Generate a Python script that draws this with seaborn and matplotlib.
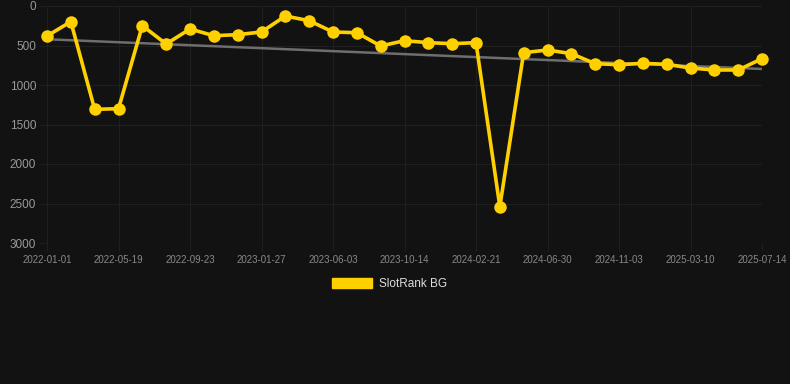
import numpy as np
import pandas as pd
import matplotlib
matplotlib.use("Agg")
import matplotlib.pyplot as plt
import seaborn as sns
from matplotlib.patches import Patch

# rank values, one per sample (evenly spaced on the x axis)
ranks = [380, 198, 1308, 1300, 249, 481, 291, 376, 363, 329,
         127, 186, 329, 338, 506, 439, 464, 477, 464, 2540,
         591, 557, 603, 730, 743, 726, 738, 785, 810, 810, 667]

# every third sample gets a date label
tick_labels = ["2022-01-01", "2022-05-19", "2022-09-23", "2023-01-27",
               "2023-06-03", "2023-10-14", "2024-02-21", "2024-06-30",
               "2024-11-03", "2025-03-10", "2025-07-14"]

# trend line end values
trend_values = [421, 797]

bg = "#121212"
grid_col = "#1f1f1f"

sns.set_theme(style="dark", rc={
    "figure.facecolor": bg,
    "axes.facecolor": bg,
    "axes.grid": True,
    "grid.color": grid_col,
    "grid.linewidth": 0.8,
})
plt.rcParams["font.family"] = ["Liberation Sans", "DejaVu Sans"]

df = pd.DataFrame({"idx": np.arange(len(ranks)), "rank": ranks})

fig = plt.figure(figsize=(7.9, 3.84), dpi=100)
ax = fig.add_axes([47 / 790, 1 - 243 / 384, (762 - 47) / 790, (243 - 6) / 384])

# trend line
ax.plot([0, len(ranks) - 1], trend_values, color="#6e6e6e", linewidth=1.8, zorder=2)

sns.lineplot(data=df, x="idx", y="rank", ax=ax, color="#FFD000",
             linewidth=2.6, marker="o", markersize=9, markeredgewidth=0,
             zorder=3)
for ln in ax.lines[1:]:
    ln.set_clip_on(False)
    ln.set_solid_joinstyle("miter")

ax.set_xlim(0, len(ranks) - 1)
ax.set_ylim(3000, 0)
ax.set_yticks([0, 500, 1000, 1500, 2000, 2500, 3000])
ax.set_xticks(np.arange(0, len(ranks), 3))
ax.set_xticklabels(tick_labels)
ax.set_xlabel("")
ax.set_ylabel("")

for s in ax.spines.values():
    s.set_visible(False)

ax.tick_params(axis="y", colors=grid_col, labelcolor="#999999", labelsize=8.5,
               length=5.8, width=0.8, pad=2, left=True)
ax.tick_params(axis="x", colors=grid_col, labelcolor="#888888", labelsize=7,
               length=5.8, width=0.8, pad=3, bottom=True)

fig.legend(handles=[Patch(facecolor="#FFD000", edgecolor="#FFD000", label="SlotRank BG")],
           loc="center", bbox_to_anchor=(389.5 / 790, 1 - 284 / 384),
           frameon=False, fontsize=8.5, labelcolor="#dddddd",
           handlelength=3.4, handleheight=0.93, handletextpad=0.6, borderpad=0)

fig.savefig("out.png", dpi=100, facecolor=bg)
